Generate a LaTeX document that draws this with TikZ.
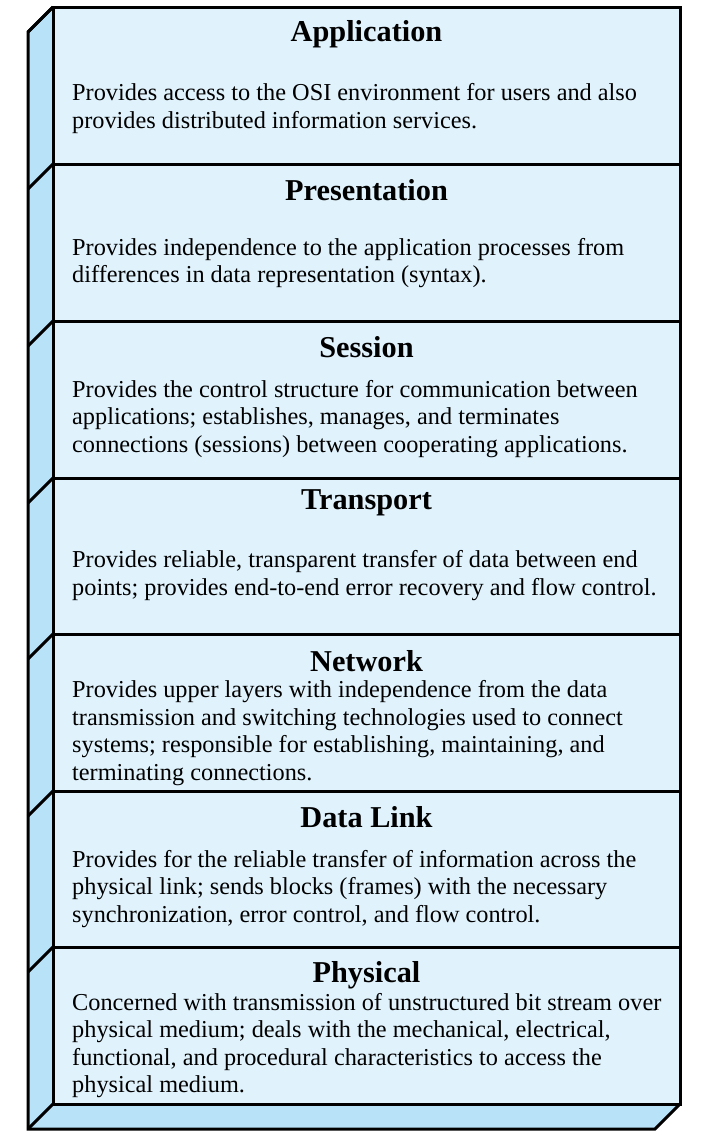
\documentclass[tikz,border=0pt]{standalone}
\usepackage{fontspec}
\setmainfont{Liberation Serif}
\definecolor{frontc}{HTML}{E0F2FC}
\definecolor{sidec}{HTML}{B8E2F8}
\begin{document}
\begin{tikzpicture}[x=1pt,y=-1pt,
  face/.style={draw=black,line width=3pt,line join=miter},
  ttl/.style={font=\fontsize{30.3}{34}\selectfont\bfseries,anchor=center},
  desc/.style={font=\fontsize{24.3}{27.4}\selectfont,align=left,anchor=west,inner sep=0pt}]
\useasboundingbox (0,0) rectangle (708,1141);
% side and bottom faces
\fill[sidec] (53,7) -- (28,32) -- (28,1129) -- (655,1129) -- (680,1104) -- (53,1104) -- cycle;
\fill[frontc] (53,7) rectangle (680,1104);
\foreach \t in {7,164,321,478,634,791,947}{
  \draw[face] (53,\t) -- (28,\t+25);
}
\draw[face] (53,7) -- (28,32) -- (28,1129) -- (655,1129) -- (680,1104);
\draw[face] (53,1104) -- (28,1129);
\foreach \a/\b in {7/164,164/321,321/478,478/634,634/791,791/947,947/1104}{
  \draw[face] (53,\a) rectangle (680,\b);
}
\node[ttl] (tA) at (366.5,34) {Application};
\node[desc] (dA) at (72,108.5) {Provides access to the OSI environment for users and also\\provides distributed information services.};
\node[ttl] (tP) at (366.5,190) {Presentation};
\node[desc] (dP) at (72,263) {Provides independence to the application processes from\\differences in data representation (syntax).};
\node[ttl] (tS) at (366.5,347) {Session};
\node[desc] (dS) at (72,419) {Provides the control structure for communication between\\applications; establishes, manages, and terminates\\connections (sessions) between cooperating applications.};
\node[ttl] (tT) at (366.5,503) {Transport};
\node[desc] (dT) at (72,575.5) {Provides reliable, transparent transfer of data between end\\points; provides end-to-end error recovery and flow control.};
\node[ttl] (tN) at (366.5,661) {Network};
\node[desc] (dN) at (72,733) {Provides upper layers with independence from the data\\transmission and switching technologies used to connect\\systems; responsible for establishing, maintaining, and\\terminating connections.};
\node[ttl] (tD) at (366.5,817) {Data Link};
\node[desc] (dD) at (72,889) {Provides for the reliable transfer of information across the\\physical link; sends blocks (frames) with the necessary\\synchronization, error control, and flow control.};
\node[ttl] (tPh) at (366.5,975) {Physical};
\node[desc] (dPh) at (72,1045.5) {Concerned with transmission of unstructured bit stream over\\physical medium; deals with the mechanical, electrical,\\functional, and procedural characteristics to access the\\physical medium.};
\end{tikzpicture}
\end{document}
